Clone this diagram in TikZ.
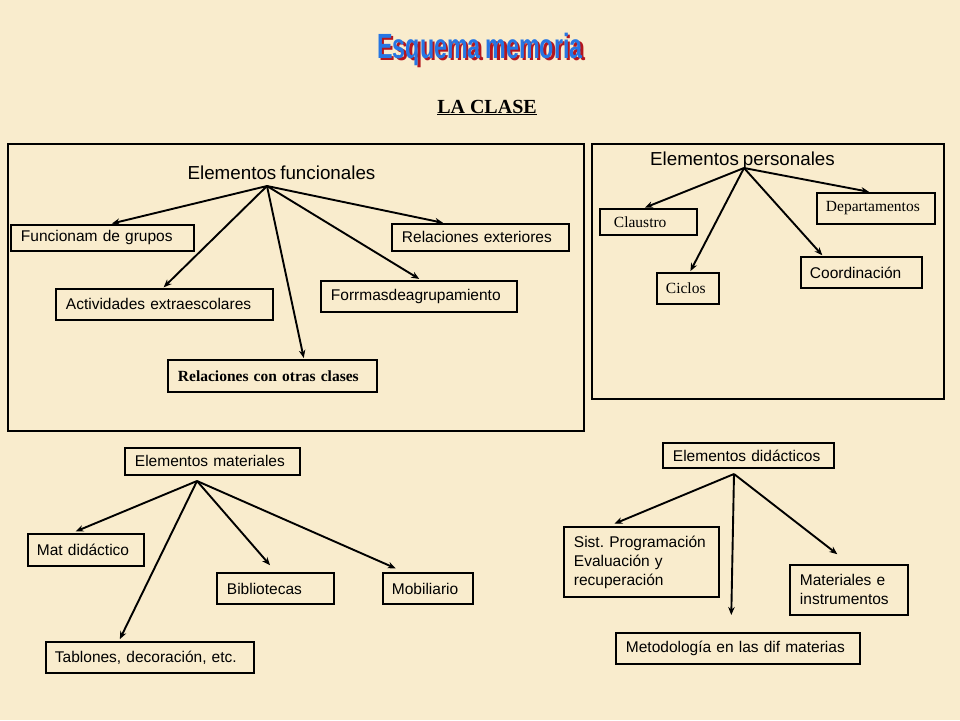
\documentclass[tikz,border=0pt]{standalone}
\usepackage{fontspec}
\setmainfont{Liberation Serif}
\setsansfont{Liberation Sans}[WordSpace=0.75]
\usetikzlibrary{arrows.meta}
\definecolor{pergamino}{RGB}{249,236,205}
\definecolor{azultit}{RGB}{38,118,228}
\definecolor{rojotit}{RGB}{180,22,30}
\hyphenpenalty=10000
\exhyphenpenalty=10000
\frenchspacing

\tikzset{
  caja/.style={draw, line width=1.9pt, anchor=north west, align=left, inner xsep=10pt, inner ysep=0pt, font=\sffamily\fontsize{15.5}{19}\selectfont},
  cajaserif/.style={caja, font=\rmfamily\fontsize{15.5}{19}\selectfont},
  rotulo/.style={inner sep=0pt, font=\sffamily\fontsize{18.8}{22}\selectfont},
  marco/.style={draw, line width=2.2pt},
  titular/.style={anchor=base, inner sep=0pt, font=\sffamily\bfseries\fontsize{35}{40}\selectfont}
}

\begin{document}
\begin{tikzpicture}[x=1pt, y=-1pt, >={Stealth[length=8pt,width=6.5pt]}, line width=1.9pt]
  \fill[pergamino] (0,0) rectangle (960,720);
  \useasboundingbox (0,0) rectangle (960,720);

  % cabecera
  \node[titular, text=rojotit] (sombra) at (482.5,60.5) {\scalebox{0.665}[1]{Esquema memoria}};
  \node[titular, text=azultit] (titulo) at (480,58) {\scalebox{0.665}[1]{Esquema memoria}};
  \node[anchor=base, inner sep=0pt, font=\rmfamily\bfseries\fontsize{20}{24}\selectfont] (clase) at (487,113) {\underline{LA CLASE}};

  % elementos funcionales
  \draw[marco] (8,144) rectangle (584,431);
  \node[rotulo] (efun) at (281.5,173) {Elementos funcionales};
  \coordinate (hubfun) at (267,186);
  \node[caja, text width=163pt, minimum height=26pt] (fgrupos) at (10,224) {Funcionam de grupos};
  \node[caja, text width=157pt, minimum height=27pt] (rexter) at (391,223) {Relaciones exteriores};
  \node[caja, text width=197pt, minimum height=31pt] (actextra) at (55,288) {Actividades extraescolares};
  \node[caja, text width=176pt, minimum height=31pt] (formas) at (320,280) {Forrmasdeagrupamiento};
  \node[cajaserif, font=\rmfamily\bfseries\fontsize{15.5}{19}\selectfont, text width=189pt, minimum height=32pt] (rotras) at (167,359) {Relaciones con otras clases};

  \path[->]
    (hubfun) edge[shorten >=2pt] ([xshift=7.5pt]fgrupos.north)
    (hubfun) edge[shorten >=1pt] ([xshift=-36.5pt]rexter.north)
    (hubfun) edge[shorten >=1pt] ([xshift=-1.5pt]actextra.north)
    (hubfun) edge[shorten >=2pt] ([xshift=2pt]formas.north)
    (hubfun) edge[shorten >=1pt] ([xshift=31.5pt]rotras.north);

  % elementos personales
  \draw[marco] (592,144) rectangle (944,399);
  \node[rotulo] (eper) at (742.5,161) {Elementos personales};
  \coordinate (hubper) at (744,168);
  \node[cajaserif, inner xsep=14pt, text width=69pt, minimum height=26pt] (claustro) at (599,208) {Claustro};
  \node[cajaserif, inner xsep=9pt, text width=100pt, minimum height=31pt] (dptos) at (816,192) {Departamentos};
  \node[cajaserif, inner xsep=9pt, text width=44pt, minimum height=31pt] (ciclos) at (656,272) {Ciclos};
  \node[caja, inner xsep=9pt, text width=103pt, minimum height=31pt] (coord) at (800,256) {Coordinación};

  \path[->]
    (hubper) edge[shorten >=1pt] ([xshift=-4.5pt]claustro.north)
    (hubper) edge[shorten >=1pt] ([xshift=-6pt]dptos.north)
    (hubper) edge[shorten >=1pt] ([xshift=2pt]ciclos.north)
    (hubper) edge[shorten >=1pt] ([xshift=-38.5pt]coord.north);

  % elementos materiales
  \node[caja, text width=155pt, minimum height=27pt] (emat) at (124,447) {Elementos materiales};
  \coordinate (hubmat) at (197,481);
  \node[caja, inner xsep=9pt, text width=98pt, minimum height=32pt] (matdid) at (27,533) {Mat didáctico};
  \node[caja, inner xsep=9pt, text width=190pt, minimum height=31pt] (tablones) at (45,641) {Tablones, decoración, etc.};
  \node[caja, text width=97pt, minimum height=31pt] (biblio) at (216,572) {Bibliotecas};
  \node[caja, inner xsep=9pt, text width=72pt, minimum height=31pt] (mobil) at (382,572) {Mobiliario};

  \path[->]
    (hubmat) edge[shorten >=4pt] ([xshift=-14pt]matdid.north)
    (hubmat) edge[shorten >=2pt] ([xshift=-31pt]tablones.north)
    (hubmat) edge[shorten >=9pt] ([xshift=0.5pt]biblio.north)
    (hubmat) edge[shorten >=9pt] ([xshift=-24pt]mobil.north);

  % elementos didacticos
  \node[caja, text width=151pt, minimum height=25pt] (edid) at (662,442) {Elementos didácticos};
  \coordinate (hubdid) at (734,474);
  \node[caja, text width=135pt, minimum height=70pt] (sist) at (563,526) {Sist. Programación\\Evaluación y\\recuperación};
  \node[caja, text width=224pt, minimum height=31pt] (metod) at (615,632) {Metodología en las dif materias};
  \node[caja, text width=98pt, minimum height=50pt] (mater) at (789,564) {Materiales e\\instrumentos};

  \path[->]
    (hubdid) edge[shorten >=6pt] ([xshift=-32.5pt]sist.north)
    (hubdid) edge[shorten >=17pt] ([xshift=-7pt]metod.north)
    (hubdid) edge[shorten >=16pt] ([xshift=1pt]mater.north);
\end{tikzpicture}
\end{document}
